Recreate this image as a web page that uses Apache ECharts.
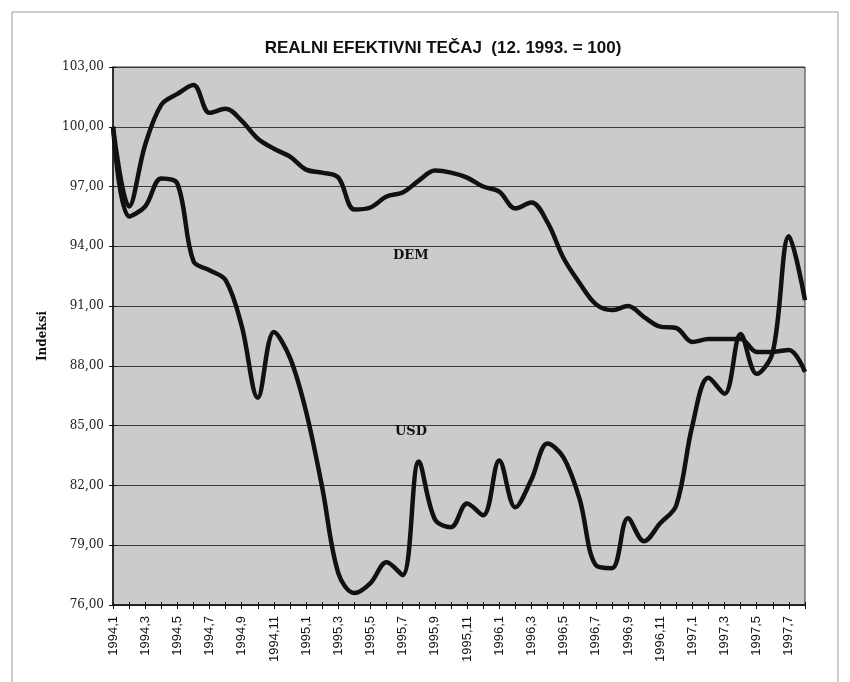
<!DOCTYPE html>
<html>
<head>
<meta charset="utf-8">
<script src="https://cdn.jsdelivr.net/npm/echarts@6/dist/echarts.min.js"></script>
<style>
  html, body { margin: 0; padding: 0; background: #fff; }
  #chart { width: 850px; height: 682px; }
</style>
</head>
<body>
<div id="chart"></div>
<script>
let months = [
  '1994,1', '1994,2', '1994,3', '1994,4', '1994,5', '1994,6', '1994,7', '1994,8', '1994,9', '1994,10', '1994,11', '1994,12',
  '1995,1', '1995,2', '1995,3', '1995,4', '1995,5', '1995,6', '1995,7', '1995,8', '1995,9', '1995,10', '1995,11', '1995,12',
  '1996,1', '1996,2', '1996,3', '1996,4', '1996,5', '1996,6', '1996,7', '1996,8', '1996,9', '1996,10', '1996,11', '1996,12',
  '1997,1', '1997,2', '1997,3', '1997,4', '1997,5', '1997,6', '1997,7', '1997,8'
]

let demValues = [
  100.0, 96.0, 99.1, 101.1, 101.65, 102.1, 100.7, 100.9, 100.3, 99.4, 98.9, 98.5,
  97.85, 97.7, 97.45, 95.85, 95.95, 96.5, 96.7, 97.3, 97.8, 97.7, 97.45, 97.0,
  96.75, 95.9, 96.2, 95.2, 93.4, 92.15, 91.1, 90.8, 91.0, 90.45, 89.97, 89.9,
  89.2, 89.35, 89.35, 89.35, 88.7, 88.7, 88.8, 87.7
]

let usdValues = [
  100.0, 95.5, 96.0, 97.4, 97.15, 93.25, 92.8, 92.3, 90.0, 86.4, 89.7, 88.4,
  85.7, 81.9, 77.6, 76.6, 77.1, 78.15, 77.5, 83.2, 80.3, 79.9, 81.1, 80.5,
  83.25, 80.9, 82.3, 84.1, 83.4, 81.3, 78.0, 77.85, 80.35, 79.2, 80.1, 81.0,
  85.0, 87.4, 86.6, 89.6, 87.6, 88.7, 94.5, 91.3
]

let yTicks = [76, 79, 82, 85, 88, 91, 94, 97, 100, 103]

let serif = 'DejaVu Serif'
let sans = 'Liberation Sans, Arial'

function lineSeries(name, values) {
  return {
    name: name,
    type: 'line',
    data: values,
    smooth: 0.35,
    symbol: 'none',
    lineStyle: { color: '#111', width: 4.5 },
    z: 5
  }
}

let chart = echarts.init(document.getElementById('chart'))

chart.setOption({
  backgroundColor: '#ffffff',
  animation: false,
  title: {
    text: 'REALNI EFEKTIVNI TEČAJ  (12. 1993. = 100)',
    left: 438,
    textAlign: 'center',
    top: 35,
    textStyle: {
      fontFamily: 'Liberation Sans Narrow, Liberation Sans, Arial',
      fontWeight: 'bold',
      fontSize: 17,
      color: '#111'
    }
  },
  grid: {
    left: 113,
    right: 45,
    top: 67,
    bottom: 77,
    show: true,
    backgroundColor: '#cbcbcb',
    borderColor: '#333',
    borderWidth: 1
  },
  xAxis: [
    {
      type: 'category',
      data: months,
      boundaryGap: false,
      axisLine: { lineStyle: { color: '#111', width: 1.5 } },
      axisTick: { interval: 0, length: 4, lineStyle: { color: '#111' } },
      axisLabel: {
        interval: 1,
        rotate: 90,
        margin: 11,
        fontFamily: sans,
        fontSize: 13,
        color: '#111'
      },
      splitLine: { show: false }
    },
    {
      // inner half of the cross ticks
      type: 'category',
      data: months,
      position: 'bottom',
      boundaryGap: false,
      axisLine: { show: false },
      axisTick: { interval: 0, inside: true, length: 3, lineStyle: { color: '#111' } },
      axisLabel: { show: false },
      splitLine: { show: false }
    }
  ],
  yAxis: [
    {
      type: 'value',
      min: yTicks[0],
      max: yTicks[yTicks.length - 1],
      interval: 3,
      name: 'Indeksi',
      nameLocation: 'middle',
      nameRotate: 90,
      nameGap: 64,
      nameTextStyle: {
        fontFamily: serif,
        fontWeight: 'bold',
        fontSize: 12,
        color: '#111'
      },
      axisLine: { show: true, lineStyle: { color: '#111', width: 1.5 } },
      axisTick: { show: true, length: 4, lineStyle: { color: '#111' } },
      axisLabel: {
        margin: 9,
        fontFamily: serif,
        fontSize: 12,
        color: '#222',
        formatter: (v) => v.toFixed(2).replace('.', ',')
      },
      splitLine: { lineStyle: { color: '#3a3a3a', width: 1 } }
    },
    {
      type: 'value',
      position: 'left',
      min: yTicks[0],
      max: yTicks[yTicks.length - 1],
      interval: 3,
      axisLine: { show: false },
      axisTick: { show: true, inside: true, length: 3, lineStyle: { color: '#111' } },
      axisLabel: { show: false },
      splitLine: { show: false }
    }
  ],
  series: [
    lineSeries('DEM', demValues),
    lineSeries('USD', usdValues)
  ],
  graphic: [
    {
      type: 'rect',
      shape: { x: 12, y: 12, width: 826, height: 690 },
      style: { fill: 'none', stroke: '#9a9a9a', lineWidth: 1 },
      silent: true
    },
    {
      type: 'text',
      left: 393,
      top: 249,
      style: { text: 'DEM', fontFamily: serif, fontWeight: 'bold', fontSize: 13, fill: '#111' },
      z: 10
    },
    {
      type: 'text',
      left: 395,
      top: 425,
      style: { text: 'USD', fontFamily: serif, fontWeight: 'bold', fontSize: 13, fill: '#111' },
      z: 10
    }
  ]
})
</script>
</body>
</html>
